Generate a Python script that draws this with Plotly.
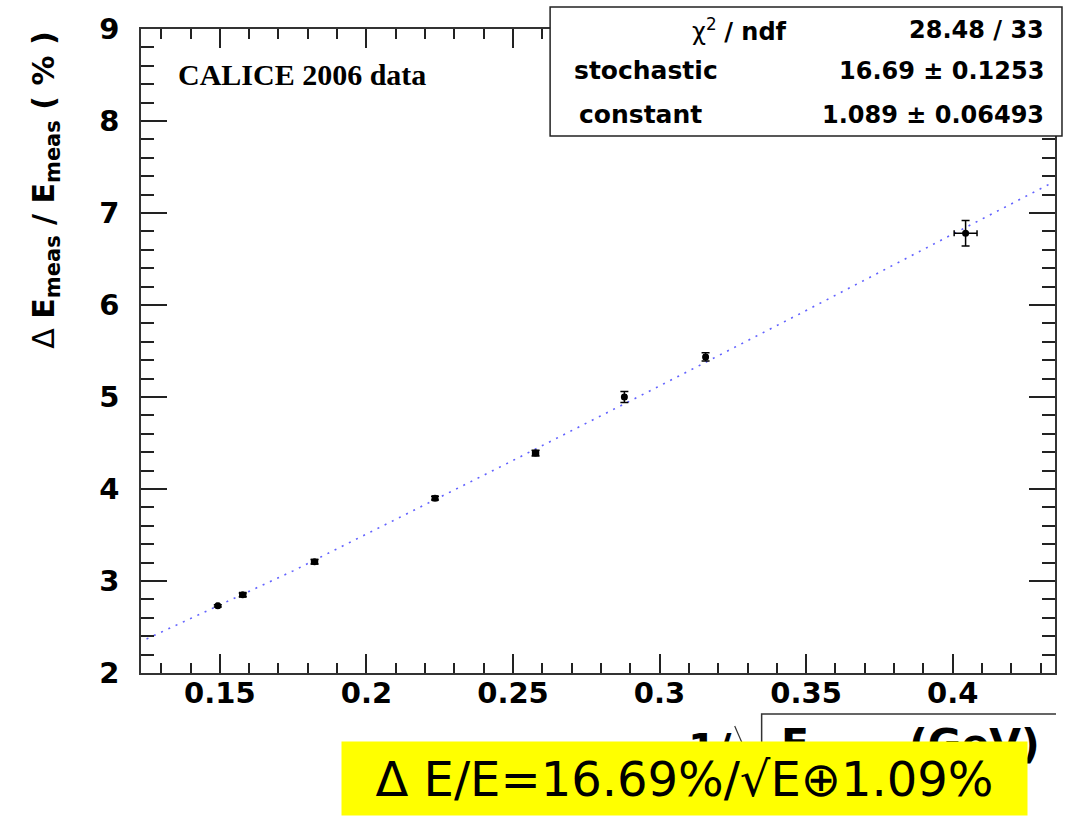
import plotly.graph_objects as go

# ---- data ----
x_vals = [0.1493, 0.1578, 0.1823, 0.2234, 0.2577, 0.2880, 0.3157, 0.4044]
y_vals = [2.73, 2.85, 3.21, 3.90, 4.39, 5.00, 5.435, 6.78]
y_err = [0.012, 0.02, 0.025, 0.02, 0.03, 0.06, 0.045, 0.138]
x_err = [0.0004, 0.001, 0.001, 0.0008, 0.001, 0.0006, 0.0006, 0.0039]

fit_x = [0.125, 0.15, 0.175, 0.2, 0.25, 0.3, 0.35, 0.4, 0.434]
fit_y = [2.37, 2.74, 3.11, 3.51, 4.31, 5.12, 5.94, 6.77, 7.33]

x_range = [0.1231, 0.4349]
y_range = [2, 9]

stats_labels = ["χ<sup>2</sup> / ndf", "stochastic", "constant"]
stats_values = ["28.48 / 33", "16.69 ± 0.1253", "1.089 ± 0.06493"]

# ---- page geometry (pixels) ----
W, H = 1066, 816
ML, MR, MT, MB = 141, 9, 29, 143
PW, PH = W - ML - MR, H - MT - MB


def px(xp):
    return (xp - ML) / PW


def py(yp):
    return (H - MB - yp) / PH


fig = go.Figure()

fig.add_trace(go.Scatter(
    x=fit_x, y=fit_y, mode="lines",
    line=dict(color="rgba(70,70,255,0.85)", width=1.6, dash="2px,6px"),
    hoverinfo="skip", showlegend=False,
))

fig.add_trace(go.Scatter(
    x=x_vals, y=y_vals, mode="markers",
    marker=dict(color="black", size=7, symbol="circle"),
    error_y=dict(type="data", array=y_err, color="black", thickness=1.5, width=4),
    error_x=dict(type="data", array=x_err, color="black", thickness=1.5, width=3),
    showlegend=False,
))

axis_common = dict(
    showline=True, linecolor="#333333", linewidth=1.5, mirror="ticks",
    ticks="inside", tickcolor="#222222", tickwidth=1.5,
    showgrid=False, zeroline=False,
    tickfont=dict(family="DejaVu Sans", size=29, color="black", weight="bold"),
)

fig.update_xaxes(
    **axis_common, range=x_range, tick0=0, dtick=0.05, ticklen=19,
    ticklabelstandoff=-7,
    minor=dict(dtick=0.01, ticks="inside", ticklen=10, tickcolor="#222222",
               tickwidth=1.5, showgrid=False),
)
fig.update_yaxes(
    **axis_common, range=y_range, tick0=0, dtick=1, ticklen=26,
    ticklabelstandoff=14,
    minor=dict(dtick=0.2, ticks="inside", ticklen=13, tickcolor="#222222",
               tickwidth=1.5, showgrid=False),
)

shapes = []
# stats box
shapes.append(dict(type="rect", xref="paper", yref="paper",
                   x0=px(551), x1=px(1064), y0=py(136), y1=py(7),
                   line=dict(color="#222222", width=1.5), fillcolor="white",
                   layer="above"))
# sqrt sign of the x title
shapes.append(dict(type="line", xref="paper", yref="paper",
                   x0=px(736), y0=py(726), x1=px(756), y1=py(772),
                   line=dict(color="#333333", width=1.2)))
shapes.append(dict(type="path", xref="paper", yref="paper",
                   path=f"M {px(763)},{py(772)} L {px(763)},{py(714)} L {px(1058)},{py(714)}",
                   line=dict(color="#333333", width=1.5)))
fig.update_layout(shapes=shapes)

ann = []
# y title
ann.append(dict(xref="paper", yref="paper", x=px(45), y=py(30),
                xanchor="center", yanchor="top", textangle=-90, showarrow=False,
                text="Δ <b>E<sub>meas</sub> / E<sub>meas</sub> ( % )</b>",
                font=dict(family="DejaVu Sans", size=30, color="black")))
# x title pieces
ann.append(dict(xref="paper", yref="paper", x=px(735), y=py(723),
                xanchor="right", yanchor="top", showarrow=False,
                text="<b>1/</b>",
                font=dict(family="DejaVu Sans", size=41, color="black")))
ann.append(dict(xref="paper", yref="paper", x=px(780), y=py(718),
                xanchor="left", yanchor="top", showarrow=False,
                text="<b>E<sub>meas</sub> (GeV)</b>",
                font=dict(family="DejaVu Sans", size=41, color="black")))
# CALICE label
ann.append(dict(xref="paper", yref="paper", x=px(176), y=py(75),
                xanchor="left", yanchor="middle", showarrow=False,
                text="<b>CALICE 2006 data</b>",
                font=dict(family="Liberation Serif", size=30, color="black")))
# stats texts
row_y = [30, 71, 115]
ann.append(dict(xref="paper", yref="paper", x=px(790), y=py(row_y[0]),
                xanchor="right", yanchor="middle", showarrow=False,
                text=stats_labels[0].replace("/ ndf", "<b>/ ndf</b>"),
                font=dict(family="DejaVu Sans", size=24, color="black")))
ann.append(dict(xref="paper", yref="paper", x=px(573), y=py(row_y[1]),
                xanchor="left", yanchor="middle", showarrow=False,
                text=f"<b>{stats_labels[1]}</b>",
                font=dict(family="DejaVu Sans", size=25, color="black")))
ann.append(dict(xref="paper", yref="paper", x=px(578), y=py(row_y[2]),
                xanchor="left", yanchor="middle", showarrow=False,
                text=f"<b>{stats_labels[2]}</b>",
                font=dict(family="DejaVu Sans", size=25, color="black")))
for v, yy in zip(stats_values, row_y):
    ann.append(dict(xref="paper", yref="paper", x=px(1048), y=py(yy),
                    xanchor="right", yanchor="middle", showarrow=False,
                    text=f"<b>{v}</b>",
                    font=dict(family="DejaVu Sans", size=24, color="black")))
# yellow result box (drawn last so it covers the x title)
ann.append(dict(xref="paper", yref="paper", x=px((343 + 1028) / 2), y=py((742 + 815) / 2),
                xanchor="center", yanchor="middle", showarrow=False,
                width=685, height=73, borderpad=0, bgcolor="#ffff00", align="center",
                text="Δ E/E=16.69%/√E⊕1.09%",
                font=dict(family="DejaVu Sans", size=48, color="black")))

fig.update_layout(
    annotations=ann,
    width=W, height=H,
    margin=dict(l=ML, r=MR, t=MT, b=MB, pad=0),
    paper_bgcolor="white", plot_bgcolor="white",
    showlegend=False,
)

fig.write_html("out.html")
